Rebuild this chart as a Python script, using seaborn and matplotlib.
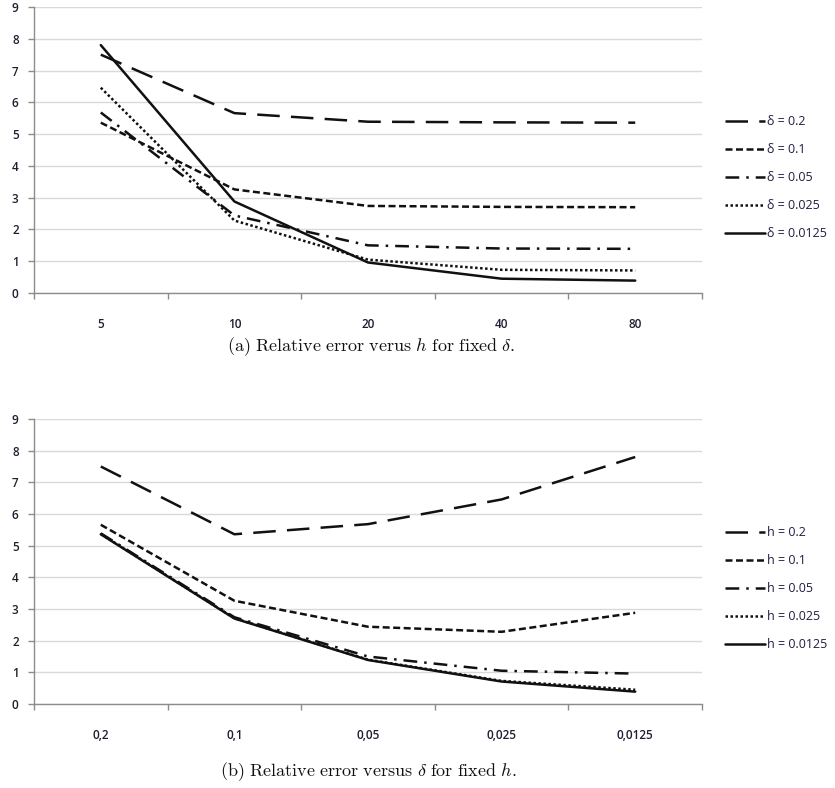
import matplotlib
matplotlib.use("Agg")
import matplotlib.pyplot as plt
import seaborn as sns
import pandas as pd
import numpy as np

# ---- data ----
h_labels = ["5", "10", "20", "40", "80"]
delta_labels = ["0,2", "0,1", "0,05", "0,025", "0,0125"]

delta_series_names = ["δ = 0.2", "δ = 0.1", "δ = 0.05", "δ = 0.025", "δ = 0.0125"]
d_02 = [7.50, 5.66, 5.39, 5.37, 5.36]
d_01 = [5.36, 3.26, 2.74, 2.71, 2.70]
d_005 = [5.68, 2.44, 1.50, 1.40, 1.39]
d_0025 = [6.46, 2.28, 1.05, 0.73, 0.71]
d_00125 = [7.80, 2.88, 0.96, 0.45, 0.39]

h_series_names = ["h = 0.2", "h = 0.1", "h = 0.05", "h = 0.025", "h = 0.0125"]
h_02 = [7.50, 5.36, 5.68, 6.46, 7.80]
h_01 = [5.66, 3.26, 2.44, 2.28, 2.88]
h_005 = [5.39, 2.74, 1.50, 1.05, 0.96]
h_0025 = [5.37, 2.71, 1.40, 0.73, 0.45]
h_00125 = [5.36, 2.70, 1.39, 0.71, 0.39]

sns.set_style("white")
plt.rcParams["font.family"] = ["Open Sans", "DejaVu Sans"]
plt.rcParams["mathtext.fontset"] = "cm"

dash_list = [(9, 4.5), (2.8, 1.4), (5.5, 2.8, 1.0, 2.8), (1.0, 1.0), ""]

W, H = 835, 788
fig = plt.figure(figsize=(W / 100, H / 100), dpi=100)


def make_df(xlabels, names, series):
    rows = []
    for name, vals in zip(names, series):
        for xl, v in zip(xlabels, vals):
            rows.append({"x": xl, "y": v, "series": name})
    return pd.DataFrame(rows)


def draw(ax, xlabels, names, series, legend_top):
    df = make_df(xlabels, names, series)
    dashes = {n: d for n, d in zip(names, dash_list)}
    sns.lineplot(data=df, x="x", y="y", style="series", style_order=names,
                 dashes=dashes, color="#111111", linewidth=1.8, sort=False,
                 ax=ax, legend=True)
    ax.set_xlim(-0.5, 4.5)
    ax.set_ylim(0, 9)
    ax.set_yticks(range(0, 10))
    ax.set_xticks(range(5))
    ax.set_xticklabels(xlabels)
    ax.set_xticks(np.arange(-0.5, 5.0, 1.0), minor=True)
    ax.set_xlabel("")
    ax.set_ylabel("")
    ax.grid(axis="y", color="#d9d9d9", linewidth=1.0)
    ax.grid(axis="x", visible=False)
    ax.set_axisbelow(True)
    for s in ["top", "right"]:
        ax.spines[s].set_visible(False)
    for s in ["left", "bottom"]:
        ax.spines[s].set_color("#8c8c8c")
        ax.spines[s].set_linewidth(1.0)
    ax.tick_params(axis="y", which="major", length=4, width=1, color="#8c8c8c",
                   labelsize=8.5, labelcolor="#1e1e32", pad=7, left=True)
    ax.tick_params(axis="x", which="major", length=0, labelsize=8.5,
                   labelcolor="#1e1e32", pad=18)
    ax.tick_params(axis="x", which="minor", length=4, width=1, color="#8c8c8c",
                   bottom=True)
    for lbl in ax.get_xticklabels() + ax.get_yticklabels():
        lbl.set_fontweight("semibold")
    handles, labels = ax.get_legend_handles_labels()
    leg = ax.legend(handles, labels, loc="upper left",
                    bbox_to_anchor=(725 / W, 1 - legend_top / H),
                    bbox_transform=fig.transFigure, frameon=False,
                    fontsize=9, handlelength=3.2, handletextpad=0.15,
                    labelspacing=1.2, borderpad=0, borderaxespad=0,
                    labelcolor="#1e1e40")
    for t in leg.get_texts():
        t.set_fontweight("medium")


ax1 = fig.add_axes([34 / W, 1 - 293 / H, (702 - 34) / W, (293 - 7) / H])
draw(ax1, h_labels, delta_series_names,
     [d_02, d_01, d_005, d_0025, d_00125], 115)

ax2 = fig.add_axes([34 / W, 1 - 704 / H, (702 - 34) / W, (704 - 419) / H])
draw(ax2, delta_labels, h_series_names,
     [h_02, h_01, h_005, h_0025, h_00125], 526)

fig.text(371 / W, 1 - 347 / H,
         r"$\mathrm{(a)\ Relative\ error\ verus\ }h\mathrm{\ for\ fixed\ }\delta\mathrm{.}$",
         ha="center", va="center", fontsize=13, color="#111111")
fig.text(368 / W, 1 - 772 / H,
         r"$\mathrm{(b)\ Relative\ error\ versus\ }\delta\mathrm{\ for\ fixed\ }h\mathrm{.}$",
         ha="center", va="center", fontsize=13, color="#111111")

fig.savefig("out.png", dpi=100)
